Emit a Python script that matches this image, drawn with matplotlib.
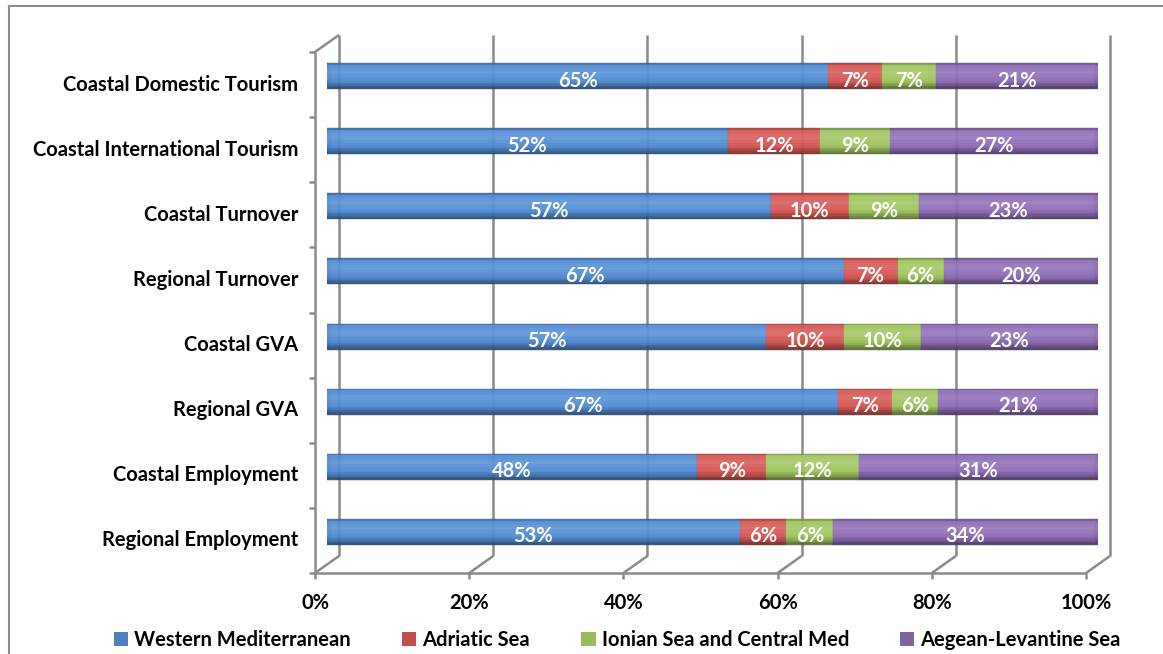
import matplotlib
matplotlib.use("Agg")
import matplotlib.pyplot as plt
from matplotlib.patches import Patch, Ellipse
from matplotlib.lines import Line2D
import numpy as np
from matplotlib.colors import to_rgb

categories = ["Coastal Domestic Tourism", "Coastal International Tourism", "Coastal Turnover",
              "Regional Turnover", "Coastal GVA", "Regional GVA", "Coastal Employment",
              "Regional Employment"]
series_names = ["Western Mediterranean", "Adriatic Sea", "Ionian Sea and Central Med",
                "Aegean-Levantine Sea"]
western = [65, 52, 57, 67, 57, 67, 48, 53]
adriatic = [7, 12, 10, 7, 10, 7, 9, 6]
ionian = [7, 9, 9, 6, 10, 6, 12, 6]
aegean = [21, 27, 23, 20, 23, 21, 31, 34]
x_ticks = [0, 20, 40, 60, 80, 100]
x_tick_labels = ["0%", "20%", "40%", "60%", "80%", "100%"]

colors = ["#4A88D2", "#D4504C", "#9CC257", "#8A66B4"]
legend_colors = ["#4F81BD", "#C0504D", "#9BBB59", "#8064A2"]
FONT = "Lato"
FS = 14.5

W, H = 1163, 654
fig = plt.figure(figsize=(W / 100, H / 100), dpi=100)
ax = fig.add_axes([327 / W, (H - 564.5) / H, 771 / W, 521 / H])
ax.set_xlim(0, 100)
ax.set_ylim(len(categories) - 0.5, -0.5)
ax.set_axis_off()

px_x = 100 / 771.0
px_y = 8 / 521.0
dx = 12 * px_x
dy = 8.5 * px_y
gcol = "#8a8a8a"
glw = 1.8
ytop, ybot = -0.5, len(categories) - 0.5

def line(xs, ys, **kw):
    ax.add_line(Line2D(xs, ys, color=gcol, lw=glw, clip_on=False, zorder=1,
                       solid_capstyle="butt", **kw))

# back wall gridlines and floor diagonals
for p in x_ticks:
    line([p + dx, p + dx], [ytop - dy, ybot - dy])
    line([p - dx, p + dx], [ybot + dy, ybot - dy])
    line([p - dx, p - dx], [ybot + dy, ybot + dy + 6 * px_y])
# left wall
line([-dx, -dx], [ytop + dy, ybot + dy])
line([-dx, dx], [ytop + dy, ytop - dy])
for k in range(len(categories) + 1):
    line([-dx - 6 * px_x, -dx], [k - 0.5 + dy, k - 0.5 + dy])
# front floor line
line([-dx, 100 - dx], [ybot + dy, ybot + dy])

# bars (100% stacked, cylinder-like shading)
data = np.array([western, adriatic, ionian, aegean], dtype=float)
totals = data.sum(axis=0)
shares = data / totals * 100
ypos = np.arange(len(categories))
h = 0.4
N = 16
ALPHA = 0.9

def shade(c, t):
    c = np.array(to_rgb(c))
    w = max(0.0, 0.14 * (1 - abs(t - 0.35) / 0.35))
    b = max(0.0, (t - 0.68) / 0.32) ** 1.2 * 0.5
    if t < 0.07:
        b += 0.25
    c = c * (1 - w) + w
    c = c * (1 - b)
    return tuple(np.clip(c, 0, 1))

cap_w = 9 * px_x
for i in range(len(categories)):
    ax.add_patch(Ellipse((0, ypos[i]), cap_w, h * 0.97, facecolor=shade(colors[0], 0.4),
                         edgecolor="none", zorder=2.9, alpha=ALPHA))
    ax.add_patch(Ellipse((100, ypos[i]), cap_w, h * 0.97, facecolor=shade(colors[3], 0.75),
                         edgecolor="none", zorder=2.9, alpha=ALPHA))

left = np.zeros(len(categories))
for s in range(4):
    for j in range(N):
        t = (j + 0.5) / N
        col = shade(colors[s], t)
        ax.barh(ypos - h / 2 + (j + 0.5) * h / N, shares[s], height=h / N, left=left,
                color=col, edgecolor=col, linewidth=0.3, zorder=3, alpha=ALPHA)
    for i in range(len(categories)):
        ax.text(left[i] + shares[s][i] / 2, ypos[i] + 0.07, f"{int(data[s][i])}%",
                ha="center", va="center", color="white", fontsize=FS,
                fontfamily=FONT, fontweight="bold", zorder=5)
    left += shares[s]

# category labels
for i, c in enumerate(categories):
    ax.text((298 - 327) * px_x, i + dy, c, ha="right", va="center", fontsize=FS,
            fontfamily=FONT, fontweight="bold", color="black", clip_on=False)

# x tick labels
for p, lab in zip(x_ticks, x_tick_labels):
    ax.text(p - dx, ybot + (603 - 564.5) * px_y, lab, ha="center", va="center",
            fontsize=FS, fontfamily=FONT, fontweight="bold", color="black", clip_on=False)

# legend
handles = [Patch(facecolor=c, edgecolor="none") for c in legend_colors]
fig.legend(handles, series_names, loc="center", bbox_to_anchor=(0.531, 1 - 640 / H),
           ncol=4, frameon=False, handlelength=0.7, handleheight=0.7,
           handletextpad=0.3, columnspacing=2.55,
           prop={"family": FONT, "weight": "bold", "size": FS})

# chart border
fig.add_artist(Line2D([9 / W, 1.0], [1 - 6 / H, 1 - 6 / H], transform=fig.transFigure,
                      color="#8c8c8c", lw=1.5))
fig.add_artist(Line2D([9 / W, 9 / W], [0, 1 - 6 / H], transform=fig.transFigure,
                      color="#8c8c8c", lw=1.5))

fig.savefig("out.png", dpi=100, facecolor="white")
